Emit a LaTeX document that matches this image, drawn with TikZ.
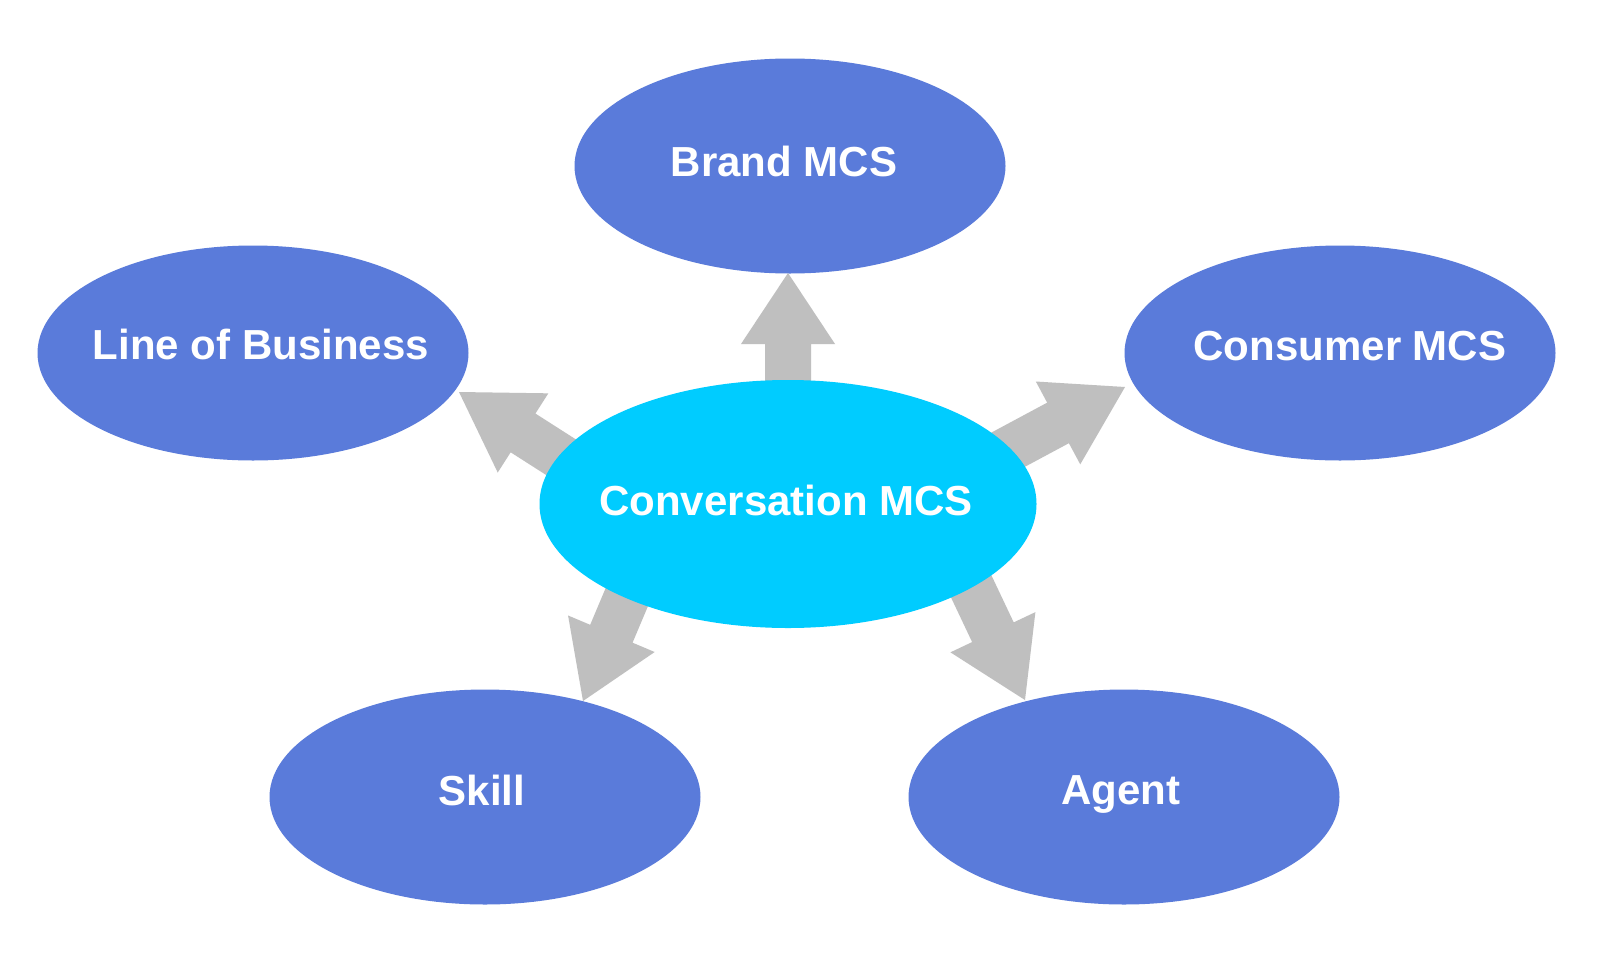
\documentclass[tikz,border=0pt]{standalone}
\usepackage{fontspec}
\setmainfont{Liberation Sans}
\usetikzlibrary{calc,shapes.geometric}
\definecolor{mcsblue}{HTML}{5A7BDA}
\definecolor{mcscyan}{HTML}{00CCFF}
\definecolor{arrgray}{HTML}{BFBFBF}
% #1 start, #2 tip, #3 head length
\newcommand\blockarrow[3]{%
  \coordinate (hb) at ($(#2)!#3!(#1)$);
  \fill[arrgray] ($(#1)!23pt!90:(#2)$) -- ($(hb)!23pt!90:(#2)$) -- ($(hb)!47pt!90:(#2)$) -- (#2)
    -- ($(hb)!47pt!-90:(#2)$) -- ($(hb)!23pt!-90:(#2)$) -- ($(#1)!23pt!-90:(#2)$) -- cycle;
}
% text on a zero-size box: #1 horizontal shift (doubled), #2 baseline drop below centre, #3 text
\newcommand\lbl[3]{\makebox[0pt]{\hspace*{#1}\raisebox{-#2}[0pt][0pt]{#3}}}
\begin{document}
\begin{tikzpicture}[x=1pt,y=-1pt,
  ell/.style={ellipse, inner sep=0pt, minimum width=431pt, minimum height=215pt,
    fill=mcsblue, text=white, font=\fontsize{42}{48}\selectfont\bfseries},
  centre/.style={ell, fill=mcscyan, minimum width=497pt, minimum height=248pt}]
\fill[white] (0,0) rectangle (1600,972);
\useasboundingbox (0,0) rectangle (1600,972);
% arrow geometry
\coordinate (sUp) at (788,450);   \coordinate (tUp) at (788,273);
\coordinate (sLob) at (628,500);  \coordinate (tLob) at (459,392);
\coordinate (sCons) at (905,505); \coordinate (tCons) at (1125,387);
\coordinate (sSkill) at (680,471); \coordinate (tSkill) at (583,701);
\coordinate (sAgent) at (918,474); \coordinate (tAgent) at (1025,700);
\blockarrow{sUp}{tUp}{71pt}
\blockarrow{sLob}{tLob}{76pt}
\blockarrow{sCons}{tCons}{76pt}
\blockarrow{sSkill}{tSkill}{73pt}
\blockarrow{sAgent}{tAgent}{75pt}
% nodes
\node[ell] (brand) at (790,166) {\lbl{-12pt}{10pt}{Brand MCS}};
\node[ell] (lob) at (253,353) {\lbl{16pt}{6pt}{Line of Business}};
\node[ell] (cons) at (1340,353) {\lbl{20pt}{7pt}{Consumer MCS}};
\node[ell] (skill) at (485,797) {\lbl{-6pt}{8pt}{Skill}};
\node[ell] (agent) at (1124,797) {\lbl{-6pt}{7pt}{Agent}};
\node[centre] (conv) at (788,504) {\lbl{-4pt}{11pt}{Conversation MCS}};
\end{tikzpicture}
\end{document}
